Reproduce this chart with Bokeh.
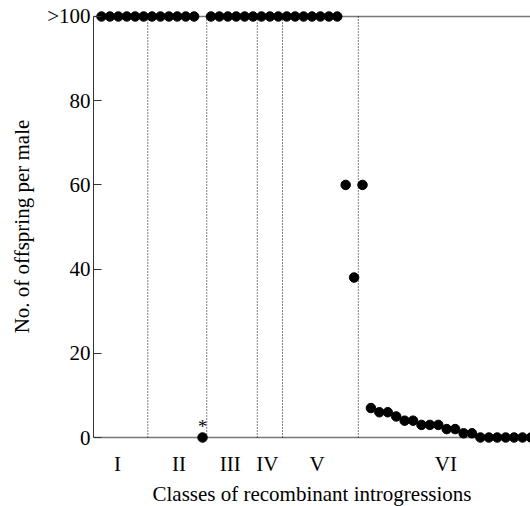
from bokeh.plotting import figure
from bokeh.models import Range1d, FixedTicker, Span
from bokeh.core.properties import value
from bokeh.embed import file_html
from bokeh.resources import INLINE

FONT = "Liberation Serif"

# ---- data ----
class_names = ["I", "II", "III", "IV", "V", "VI"]
class_sizes = [6, 7, 6, 3, 9, 21]
class_label_pos = [1.9, 9.2, 15.3, 19.7, 25.6, 40.9]

# offspring per male for each recombinant introgression (100 means ">100")
offspring = [100, 100, 100, 100, 100, 100,            # I
             100, 100, 100, 100, 100, 100, 0,         # II
             100, 100, 100, 100, 100, 100,            # III
             100, 100, 100,                           # IV
             100, 100, 100, 100, 100, 100, 100, 60, 38,   # V
             60, 7, 6, 6, 5, 4, 4, 3, 3, 3, 2, 2, 1, 1,
             0, 0, 0, 0, 0, 0, 0]                     # VI
star_index = [12]

y_ticks = [0, 20, 40, 60, 80, 100]
y_tick_labels = ["0", "20", "40", "60", "80", ">100"]

idx = list(range(len(offspring)))

# class boundaries
bounds = []
acc = 0
for s in class_sizes[:-1]:
    acc += s
    bounds.append(acc - 0.5)

p = figure(frame_width=437, frame_height=436,
           x_range=Range1d(-0.95, 50.95), y_range=Range1d(-1.66, 101.9),
           output_backend="svg", toolbar_location=None,
           min_border_left=93, min_border_right=0, min_border_top=8,
           min_border_bottom=62)
p.outline_line_color = None
p.grid.visible = False
p.background_fill_color = "white"
p.border_fill_color = "white"

# y axis
yax = p.yaxis[0]
yax.ticker = FixedTicker(ticks=y_ticks)
yax.major_label_overrides = {t: l for t, l in zip(y_ticks, y_tick_labels)}
yax.bounds = (0, 100)
yax.major_tick_in = 8
yax.major_tick_out = 0
yax.minor_tick_line_color = None
yax.axis_line_color = "#333333"
yax.major_tick_line_color = "#333333"
yax.axis_label = "No. of offspring per male"
yax.axis_label_text_font = FONT
yax.axis_label_text_font_size = "21px"
yax.axis_label_text_font_style = "normal"
yax.axis_label_text_color = "black"
yax.major_label_text_font = FONT
yax.major_label_text_font_size = "21px"
yax.major_label_text_color = "black"
yax.major_label_standoff = 3
yax.axis_label_standoff = 10

# x axis (class labels)
xax = p.xaxis[0]
xax.ticker = FixedTicker(ticks=class_label_pos)
xax.major_label_overrides = {t: n for t, n in zip(class_label_pos, class_names)}
xax.axis_line_color = None
xax.major_tick_line_color = None
xax.minor_tick_line_color = None
xax.major_tick_out = 0
xax.major_tick_in = 0
xax.major_label_text_font = FONT
xax.major_label_text_font_size = "21px"
xax.major_label_text_color = "black"
xax.major_label_standoff = 7
xax.axis_label = "Classes of recombinant introgressions"
xax.axis_label_text_font = FONT
xax.axis_label_text_font_size = "21px"
xax.axis_label_text_font_style = "normal"
xax.axis_label_text_color = "black"
xax.axis_label_standoff = 3

# top and bottom lines
for loc in (0, 100):
    p.add_layout(Span(location=loc, dimension="width", line_color="#777777",
                      line_width=1.5, level="underlay"))

# class dividers
p.segment(x0=bounds, y0=[0] * len(bounds), x1=bounds, y1=[100] * len(bounds),
          line_color="black", line_width=1, line_dash="1 2")

# points
p.scatter(x=idx, y=offspring, size=9.5, fill_color="black", line_color="black")

# asterisk
p.text(x=star_index, y=[offspring[i] for i in star_index], text=["*"],
       text_font=value(FONT), text_font_size="18px", text_align="center",
       text_baseline="alphabetic", y_offset=-11, text_color="black")

open("out.html", "w").write(file_html(p, INLINE))
